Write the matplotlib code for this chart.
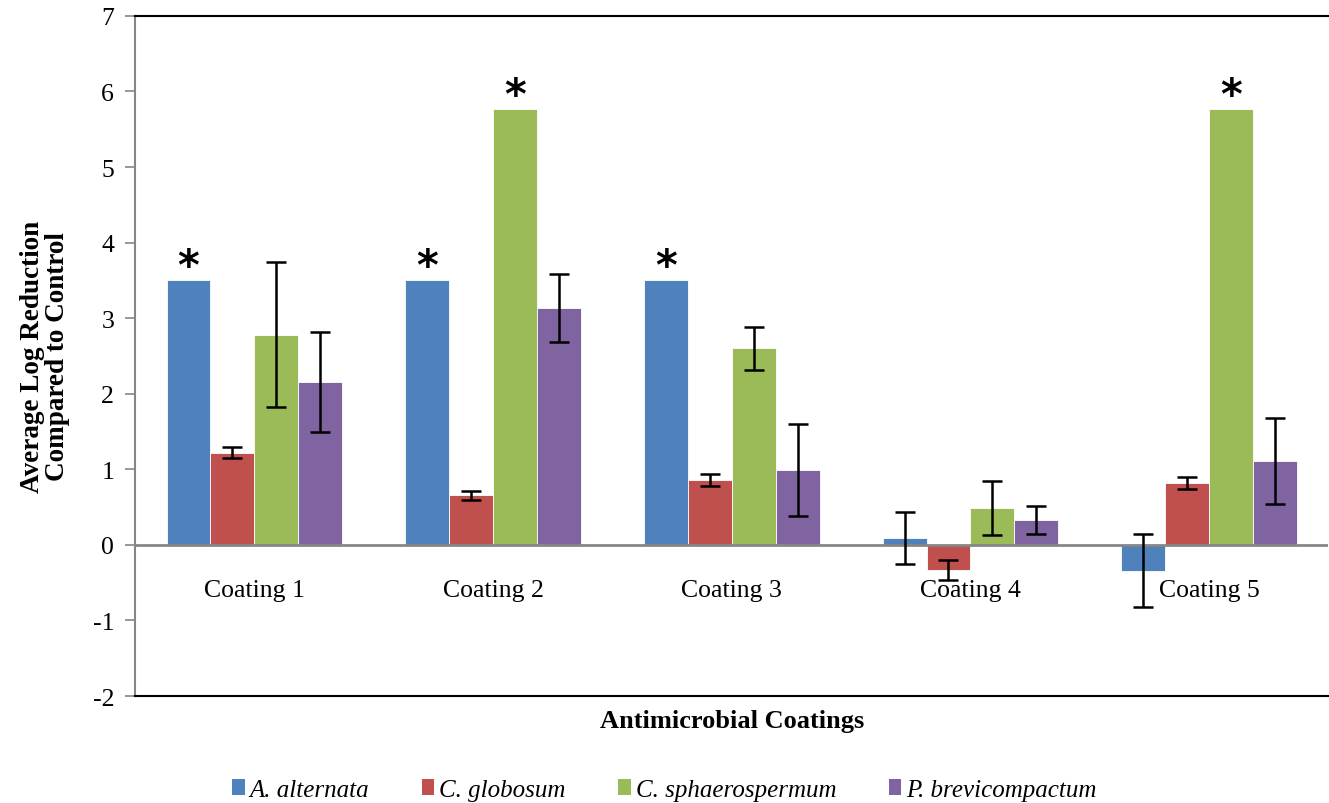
import matplotlib
matplotlib.use("Agg")
import matplotlib.pyplot as plt
import numpy as np
from matplotlib.patches import Patch

plt.rcParams['font.family'] = ['Liberation Serif', 'DejaVu Serif']

categories = ["Coating 1", "Coating 2", "Coating 3", "Coating 4", "Coating 5"]
species = ["A. alternata", "C. globosum", "C. sphaerospermum", "P. brevicompactum"]
colors = ["#4F81BD", "#C0504D", "#9BBB59", "#8064A2"]

values = {
    "A. alternata":      [3.51, 3.51, 3.51, 0.09, -0.34],
    "C. globosum":       [1.22, 0.66, 0.86, -0.33, 0.82],
    "C. sphaerospermum": [2.78, 5.77, 2.60, 0.49, 5.77],
    "P. brevicompactum": [2.16, 3.14, 0.99, 0.33, 1.11],
}
errors = {
    "A. alternata":      [None, None, None, 0.34, 0.48],
    "C. globosum":       [0.07, 0.06, 0.08, 0.13, 0.08],
    "C. sphaerospermum": [0.96, None, 0.29, 0.36, None],
    "P. brevicompactum": [0.66, 0.45, 0.61, 0.19, 0.57],
}
# (category index, species index) pairs marked with an asterisk
asterisks = [(0, 0), (1, 0), (2, 0), (1, 2), (4, 2)]

fig = plt.figure(figsize=(13.29, 8.04), dpi=100)
ax = fig.add_axes([0.1016, 0.133, 0.898, 0.846])

n = len(species)
width = 0.184
x = np.arange(len(categories))
for i, sp in enumerate(species):
    pos = x + (i - (n - 1) / 2) * width
    vals = values[sp]
    ax.bar(pos, vals, width, color=colors[i], edgecolor='white', linewidth=0.6, zorder=2)
    for p, v, e in zip(pos, vals, errors[sp]):
        if e is not None:
            ax.errorbar(p, v, yerr=e, fmt='none', ecolor='black', elinewidth=1.8,
                        capsize=7, capthick=1.8, zorder=3)

for ci, si in asterisks:
    p = x[ci] + (si - (n - 1) / 2) * width
    v = values[species[si]][ci]
    ax.text(p, v + 0.17, "*", ha='center', va='center', fontsize=30,
            fontweight='bold', family='DejaVu Sans', zorder=4)

ax.set_xlim(-0.5, len(categories) - 0.5)
ax.set_ylim(-2, 7)
ax.set_yticks(range(-2, 8))
ax.set_yticklabels([str(t) for t in range(-2, 8)], fontsize=18.5)
ax.tick_params(axis='y', direction='out', length=7, width=1.2, color='#868686', pad=8)
ax.set_xticks([])
ax.axhline(0, color='#868686', linewidth=2, zorder=2.5)

for i, c in enumerate(categories):
    ax.text(x[i], -0.6, c, ha='center', va='center', fontsize=18.5, zorder=5)

ax.spines['left'].set_color('#868686')
ax.spines['left'].set_linewidth(1.5)
ax.spines['top'].set_color('black')
ax.spines['top'].set_linewidth(1.5)
ax.spines['bottom'].set_color('black')
ax.spines['bottom'].set_linewidth(1.5)
ax.spines['right'].set_visible(False)

ax.set_ylabel("Average Log Reduction\nCompared to Control", fontsize=19.5,
              fontweight='bold', labelpad=16, linespacing=1.0)
ax.set_xlabel("Antimicrobial Coatings", fontsize=19, fontweight='bold', labelpad=9)

handles = [Patch(facecolor=colors[i], label=species[i]) for i in range(n)]
fig.legend(handles=handles, loc='center', bbox_to_anchor=(0.5, 0.016), ncol=4,
           frameon=False, prop={'style': 'italic', 'size': 18},
           handlelength=0.5, handleheight=0.6, handletextpad=0.2, columnspacing=2.1)

fig.savefig("out.png", dpi=100)
